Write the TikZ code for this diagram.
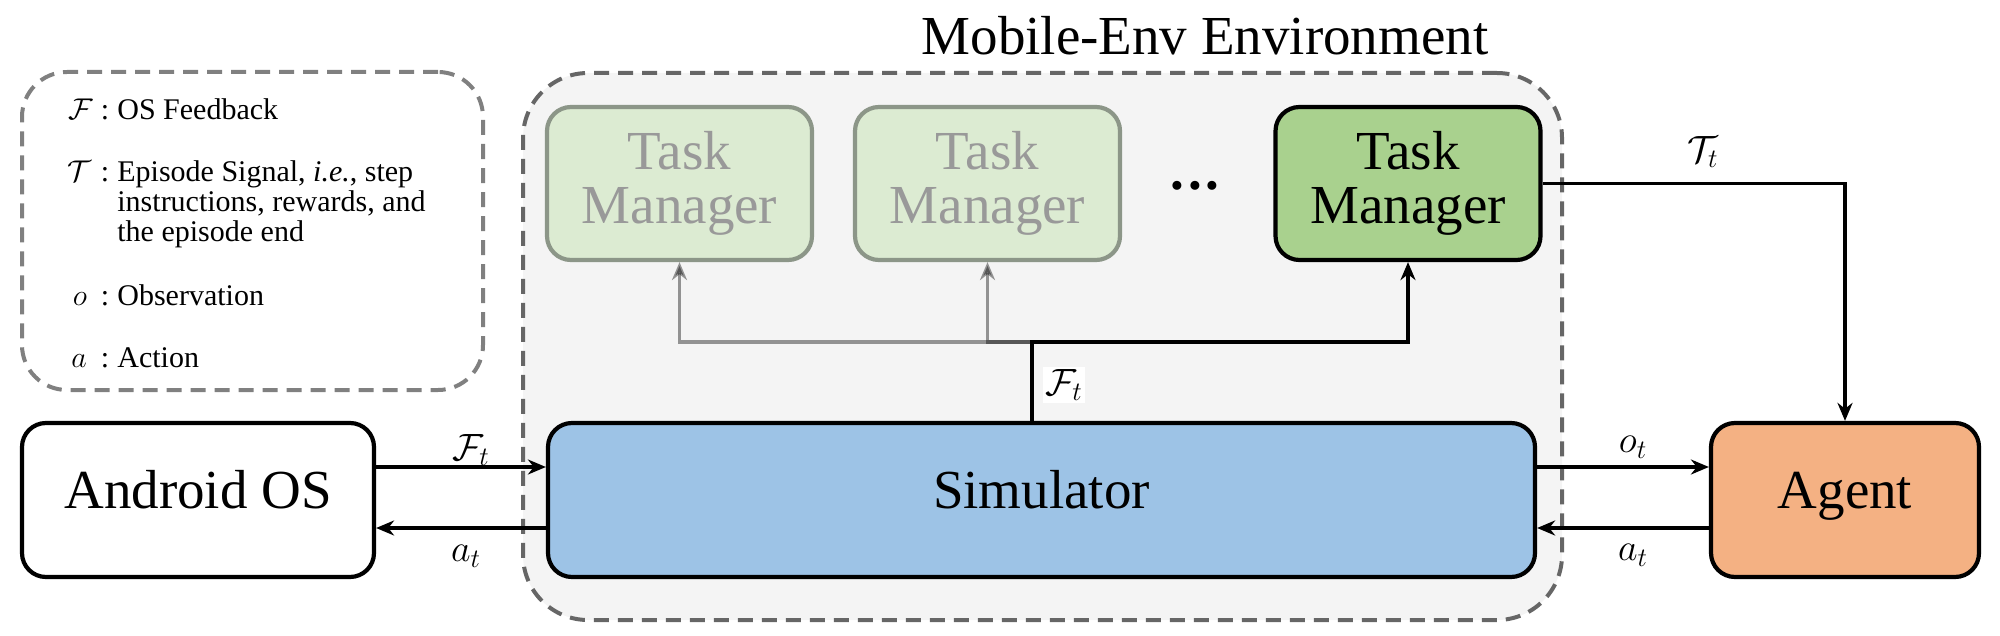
\RequirePackage{fix-cm}
\documentclass[tikz,border=0pt]{standalone}
\usepackage{fontspec}
\setmainfont{Liberation Serif}
\usetikzlibrary{arrows.meta}
\definecolor{simblue}{HTML}{9DC3E6}
\definecolor{agentorange}{HTML}{F4B183}
\definecolor{tmgreen}{HTML}{A9D18E}
\definecolor{tmfaint}{HTML}{DCEBD2}
\definecolor{tmfaintdraw}{HTML}{8C9688}
\definecolor{tmfainttext}{HTML}{999999}
\definecolor{envfill}{HTML}{F4F4F4}
\definecolor{envdash}{HTML}{666666}
\definecolor{legdash}{HTML}{808080}
\tikzset{
  bigfont/.style={font=\fontsize{27.5pt}{27pt}\selectfont},
  box/.style={draw=black, line width=2.1pt, rounded corners=12pt, bigfont, minimum height=77pt, inner sep=0pt},
  onebox/.style={box, text height=17pt, text depth=9pt},
  tmbox/.style={box, minimum width=132.5pt, minimum height=76.5pt, align=center, fill=tmgreen},
  tmfaded/.style={tmbox, fill=tmfaint, draw=tmfaintdraw, text=tmfainttext},
  arr/.style={line width=1.7pt, -{Stealth[length=9pt,width=7.5pt]}},
  grayarr/.style={arr, opacity=0.4},
  lbl/.style={font=\fontsize{19pt}{19pt}\selectfont, inner sep=0pt},
  legtext/.style={font=\fontsize{15pt}{15pt}\selectfont, inner sep=0pt, anchor=base west},
  legsym/.style={font=\fontsize{15pt}{15pt}\selectfont, inner sep=0pt, anchor=base},
  dashbox/.style={line width=2pt, dash pattern=on 7.5pt off 4.5pt, inner sep=0pt},
}
\begin{document}
\begin{tikzpicture}[x=0.5pt, y=-0.5pt]
\useasboundingbox (0,0) rectangle (2000,636);
% environment container
\node[dashbox, draw=envdash, fill=envfill, rounded corners=32.5pt,
      minimum width=519.5pt, minimum height=273.5pt] (env) at (1042.5,346.5) {};
\node[bigfont, anchor=base, inner sep=0pt] (title) at (1205,55) {Mobile-Env Environment};
% legend
\node[dashbox, draw=legdash, rounded corners=22.5pt,
      minimum width=230.5pt, minimum height=159pt] (legend) at (252.5,231) {};
\node[legsym] (sF) at (81,120) {$\mathcal{F}$};
\node[legsym] (cF) at (105,120) {:};
\node[legtext] (tF) at (117,120) {OS Feedback};
\node[legsym] (sT) at (79,182) {$\mathcal{T}$};
\node[legsym] (cT) at (105,182) {:};
\node[legtext] (tT1) at (117,182) {Episode Signal, \textit{i.e.}, step};
\node[legtext] (tT2) at (117,212) {instructions, rewards, and};
\node[legtext] (tT3) at (117,242) {the episode end};
\node[legsym] (so) at (80,305) {$o$};
\node[legsym] (co) at (105,305) {:};
\node[legtext] (to) at (117,305) {Observation};
\node[legsym] (sa) at (79,367) {$a$};
\node[legsym] (ca) at (105,367) {:};
\node[legtext] (ta) at (117,367) {Action};
% main boxes
\node[onebox, fill=white, minimum width=176pt] (android) at (198,500) {Android OS};
\node[onebox, fill=simblue, minimum width=493.5pt] (sim) at (1041.5,500) {Simulator};
\node[onebox, fill=agentorange, minimum width=134pt] (agent) at (1845,500) {Agent};
\node[tmfaded] (tm1) at (679.5,183.5) {Task\\Manager};
\node[tmfaded] (tm2) at (987.5,183.5) {Task\\Manager};
\node[tmbox] (tm3) at (1408,183.5) {Task\\Manager};
\node[bigfont, anchor=base, inner sep=0pt] (dots) at (1195,190) {\textbf{.\kern1.9pt.\kern1.9pt.}};
% connectors
\coordinate (j) at (1032,342);
\draw[grayarr] (j) -| (tm1.south);
\draw[grayarr] (j) -| (tm2.south);
\draw[arr] (j |- sim.north) -- (j) -| (tm3.south);
\node[lbl, fill=white, inner sep=1pt] (lFv) at (1064,385) {$\mathcal{F}_t$};
\draw[arr] (tm3.east) -| (agent.north);
\node[lbl] (lT) at (1703,152) {$\mathcal{T}_t$};
\draw[arr] ([yshift=16.5pt]android.east) -- ([yshift=16.5pt]sim.west);
\draw[arr] ([yshift=-14pt]sim.west) -- ([yshift=-14pt]android.east);
\draw[arr] ([yshift=16.5pt]sim.east) -- ([yshift=16.5pt]agent.west);
\draw[arr] ([yshift=-14pt]agent.west) -- ([yshift=-14pt]sim.east);
\node[lbl] (lF) at (471,450) {$\mathcal{F}_t$};
\node[lbl] (la1) at (466,556) {$a_t$};
\node[lbl] (lo) at (1633,447) {$o_t$};
\node[lbl] (la2) at (1633,555) {$a_t$};
\end{tikzpicture}
\end{document}
